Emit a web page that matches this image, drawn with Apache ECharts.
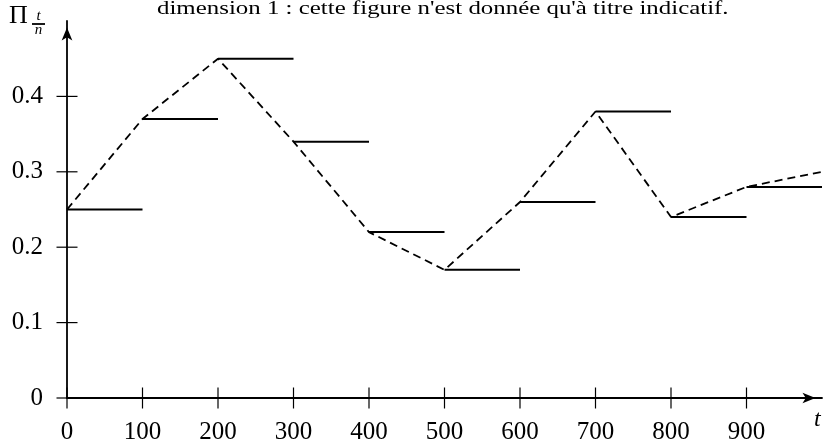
<!DOCTYPE html>
<html>
<head>
<meta charset="utf-8">
<script src="https://cdn.jsdelivr.net/npm/echarts@6/dist/echarts.min.js"></script>
<style>html,body{margin:0;padding:0;background:#fff}#c{width:826px;height:446px}</style>
</head>
<body>
<div id="c"></div>
<script>
// data
var times = [0, 100, 200, 300, 400, 500, 600, 700, 800, 900];
var values = [0.25, 0.37, 0.45, 0.34, 0.22, 0.17, 0.26, 0.38, 0.24, 0.28];
var endTime = 1000;
var endValue = 0.30;
var xTicks = [0, 100, 200, 300, 400, 500, 600, 700, 800, 900];
var yTicks = [0, 0.1, 0.2, 0.3, 0.4];
var titleText = "dimension 1 : cette figure n'est donnée qu'à titre indicatif.";

var serif = '"Liberation Serif", "DejaVu Serif", serif';
var chart = echarts.init(document.getElementById('c'), null, {renderer: 'canvas'});

var stepEnds = times.slice(1).concat([endTime]);
var stepSeries = values.map(function (v, i) {
  return {
    type: 'line', xAxisIndex: 0, yAxisIndex: 0,
    data: [[times[i], v], [stepEnds[i], v]],
    symbol: 'none', silent: true, animation: false,
    lineStyle: {color: '#000', width: 2}
  };
});
var dashData = times.map(function (t, i) { return [t, values[i]]; }).concat([[endTime, endValue]]);

// crossing tick marks (drawn on both sides of the axes)
var xTickSeries = {
  type: 'scatter', clip: false, data: xTicks.map(function (t) { return [t, 0]; }),
  symbol: 'rect', symbolSize: [1.2, 21], itemStyle: {color: '#000', opacity: 1}, silent: true, z: 5
};
var yTickSeries = {
  type: 'scatter', clip: false, data: yTicks.map(function (v) { return [0, v]; }),
  symbol: 'rect', symbolSize: [21, 1.2], itemStyle: {color: '#000', opacity: 1}, silent: true, z: 5
};

chart.setOption({
  backgroundColor: '#fff',
  animation: false,
  grid: {left: 67, right: 4, top: 21, bottom: 48, containLabel: false},
  xAxis: {
    type: 'value', min: 0, max: 1000, interval: 100,
    axisLine: {show: true, onZero: false, symbol: ['none', 'arrow'], symbolSize: [8, 13], symbolOffset: [0, -6.5], lineStyle: {color: '#000', width: 1.8}},
    axisTick: {show: false},
    axisLabel: {show: true, customValues: xTicks, margin: 22, fontSize: 25, fontFamily: serif, color: '#000'},
    splitLine: {show: false}
  },
  yAxis: {
    type: 'value', min: 0, max: 0.5, interval: 0.1,
    axisLine: {show: true, onZero: false, symbol: ['none', 'arrow'], symbolSize: [8, 13], symbolOffset: [0, -6.5], lineStyle: {color: '#000', width: 1.8}},
    axisTick: {show: false},
    axisLabel: {show: true, customValues: yTicks, margin: 24, fontSize: 25, fontFamily: serif, color: '#000',
      formatter: function (v) { return v === 0 ? '0' : v.toFixed(1); }},
    splitLine: {show: false}
  },
  graphic: [
    {type: 'text', x: 157, y: 0, scaleX: 1.31, style: {text: titleText, font: '19px ' + serif, fill: '#000', textAlign: 'left', textVerticalAlign: 'top', align: 'left', verticalAlign: 'top'}},
    {type: 'text', x: 9, y: 3, style: {text: 'Π', font: '26px ' + serif, fill: '#000', textVerticalAlign: 'top', verticalAlign: 'top'}},
    {type: 'text', x: 38.5, y: 9, style: {text: 't', font: 'italic 15px ' + serif, fill: '#000', textAlign: 'center', align: 'center', textVerticalAlign: 'top', verticalAlign: 'top'}},
    {type: 'line', shape: {x1: 32, y1: 24, x2: 45, y2: 24}, style: {stroke: '#000', lineWidth: 1.8}},
    {type: 'text', x: 38.5, y: 23, style: {text: 'n', font: 'italic 15px ' + serif, fill: '#000', textAlign: 'center', align: 'center', textVerticalAlign: 'top', verticalAlign: 'top'}},
    {type: 'text', x: 814, y: 408, style: {text: 't', font: 'italic 24px ' + serif, fill: '#000', textVerticalAlign: 'top', verticalAlign: 'top'}}
  ],
  series: stepSeries.concat([{
    type: 'line', xAxisIndex: 0, yAxisIndex: 0, data: dashData, symbol: 'none', silent: true, animation: false,
    lineStyle: {color: '#000', width: 1.8, type: [8, 5]}
  }, xTickSeries, yTickSeries])
});
</script>
</body>
</html>
